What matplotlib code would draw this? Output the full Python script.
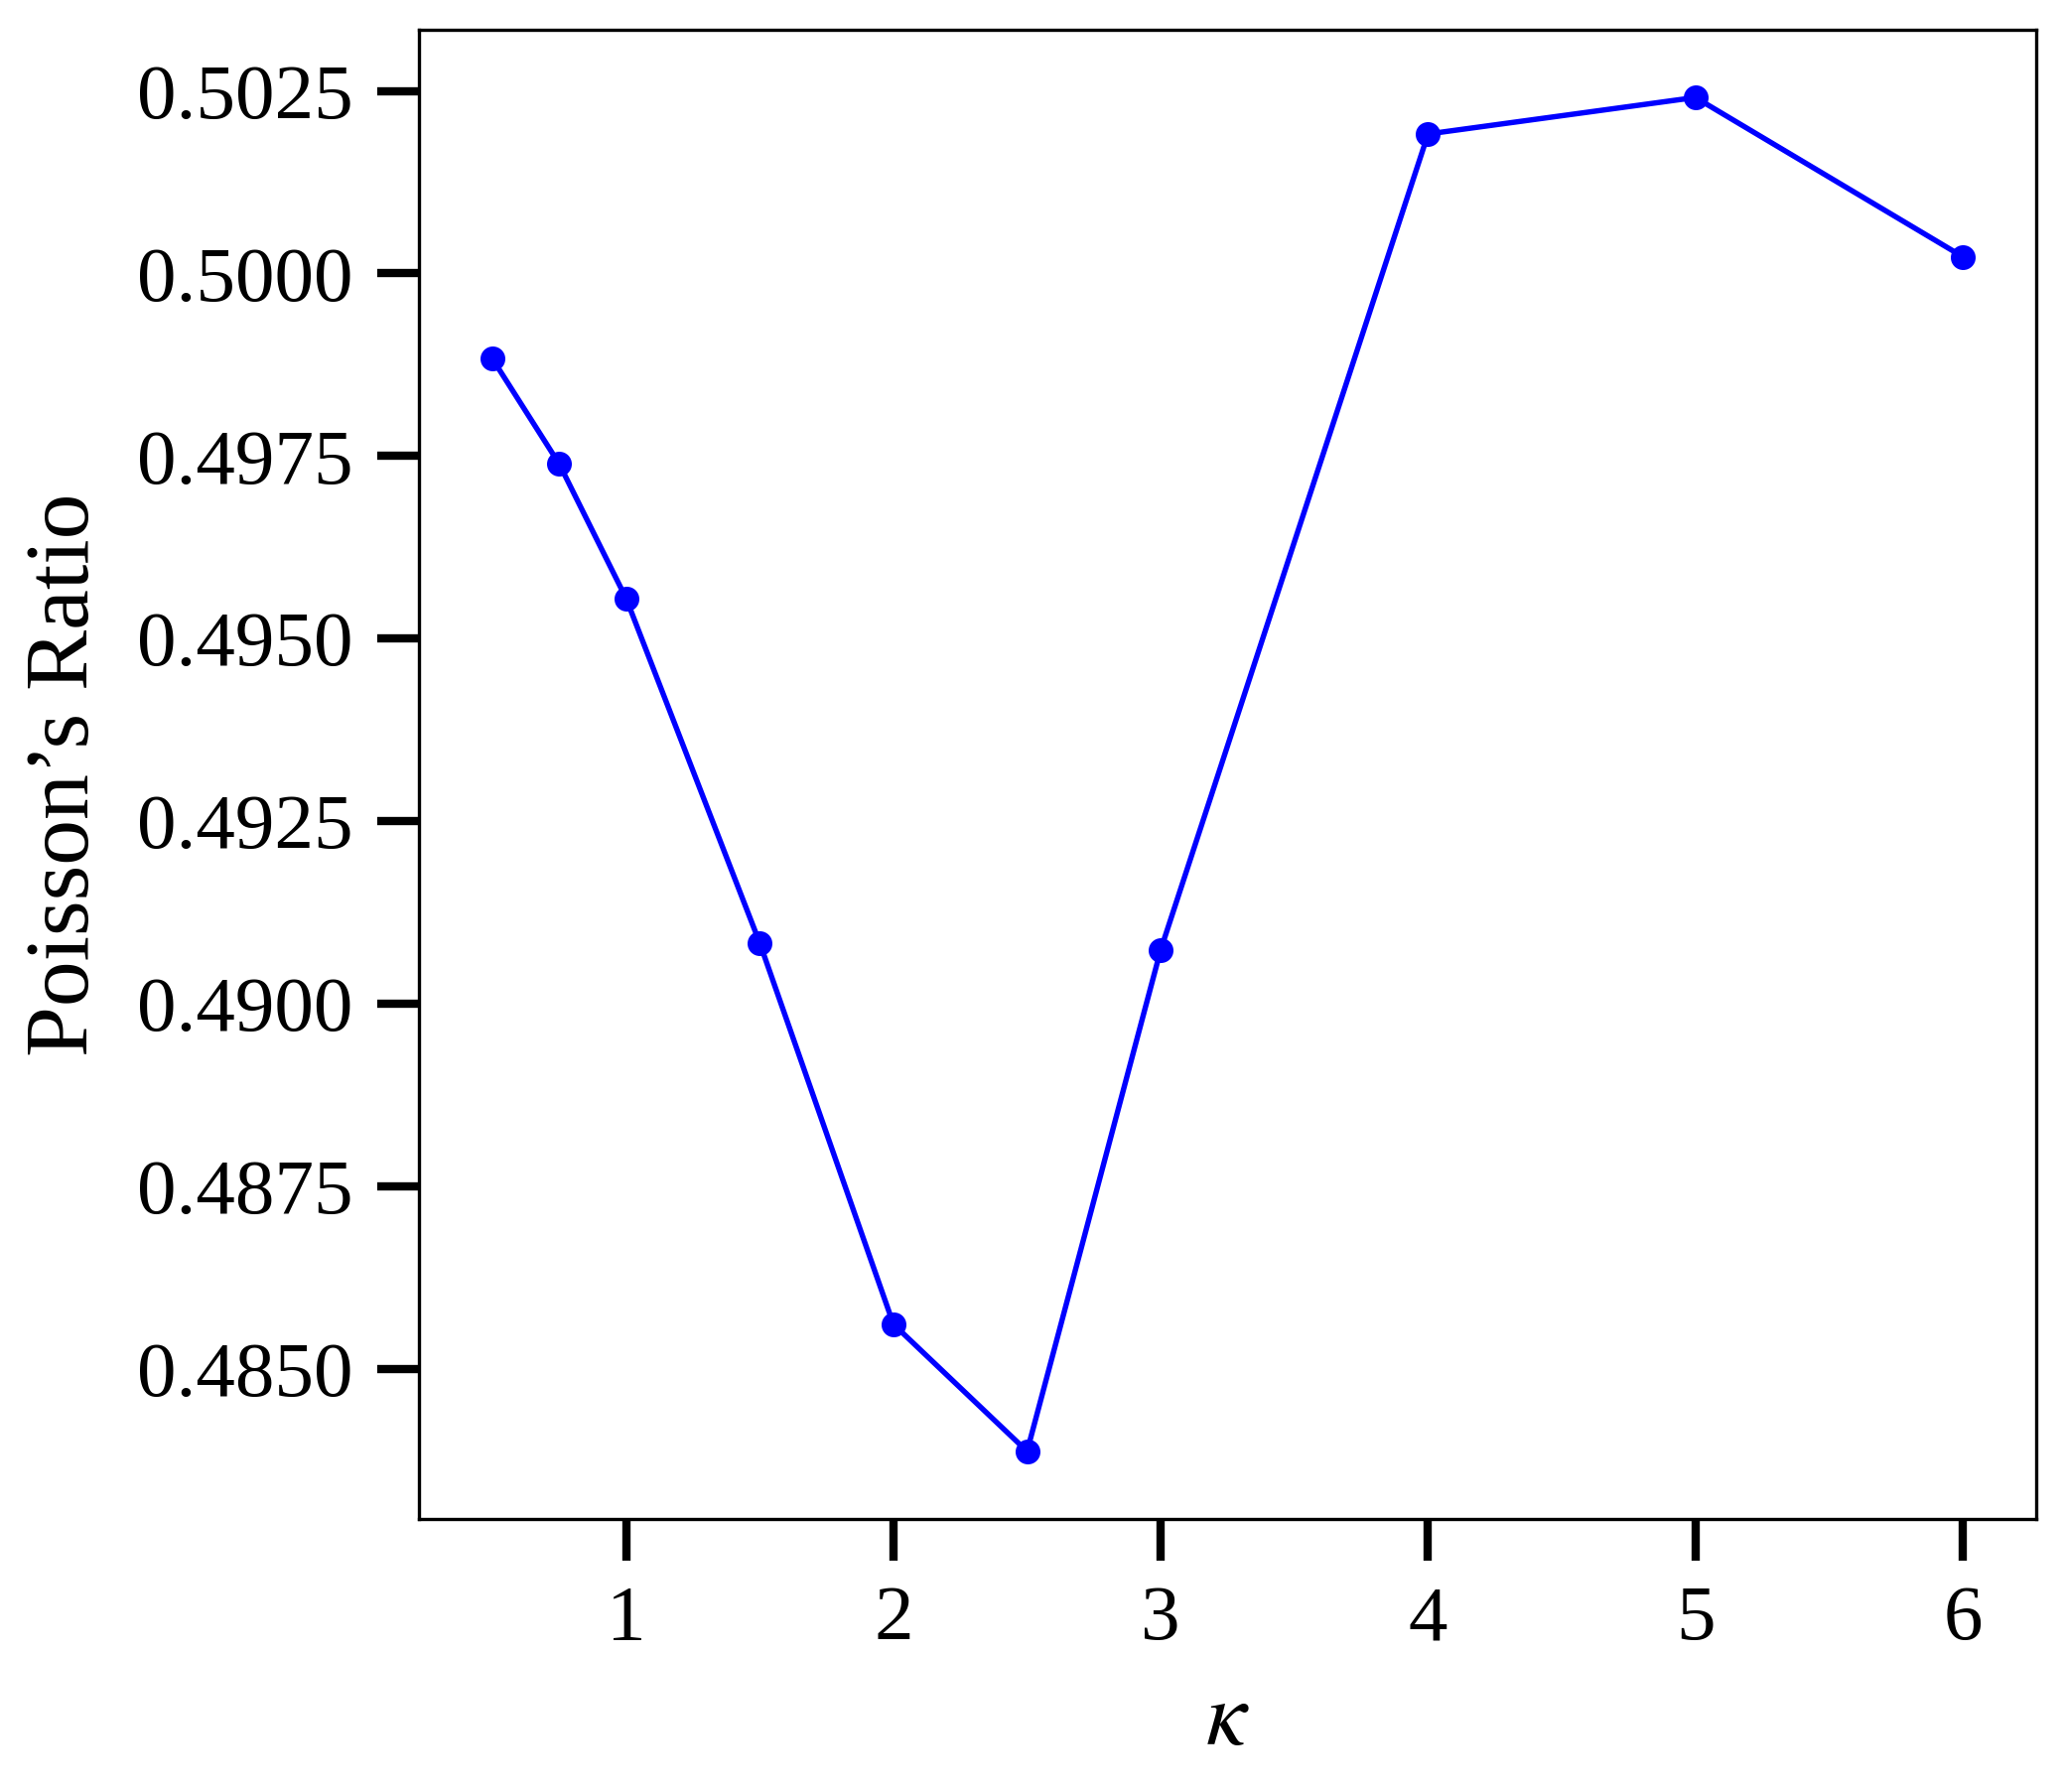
import matplotlib
matplotlib.use("Agg")
import matplotlib.pyplot as plt

kappa = [0.5, 0.75, 1.0, 1.5, 2.0, 2.5, 3.0, 4.0, 5.0, 6.0]
poisson = [0.49883, 0.49739, 0.49555, 0.49083, 0.48561, 0.48387, 0.49074, 0.50191, 0.50241, 0.50023]
yticks = [0.4850, 0.4875, 0.4900, 0.4925, 0.4950, 0.4975, 0.5000, 0.5025]
xticks = [1, 2, 3, 4, 5, 6]

plt.rcParams['font.family'] = ['Liberation Serif', 'DejaVu Serif']
plt.rcParams['mathtext.fontset'] = 'stix'

fig = plt.figure(figsize=(2079/300, 1805/300), dpi=300)
ax = fig.add_axes([422/2079, 1 - 1530/1805, (2051-422)/2079, (1530-30)/1805])
ax.plot(kappa, poisson, color='blue', linewidth=1.3, marker='o', markersize=5)
ax.set_xticks(xticks)
ax.set_yticks(yticks)
ax.set_yticklabels([f"{v:.4f}" for v in yticks])
ax.tick_params(axis='both', labelsize=19, length=10, width=2.0, pad=6)
for s in ax.spines.values():
    s.set_linewidth(0.8)
ax.set_xlabel(r'$\kappa$', fontsize=22, labelpad=6)
ax.set_ylabel('Poisson\u2019s Ratio', fontsize=22, labelpad=7)
fig.savefig('out.png', dpi=300)
